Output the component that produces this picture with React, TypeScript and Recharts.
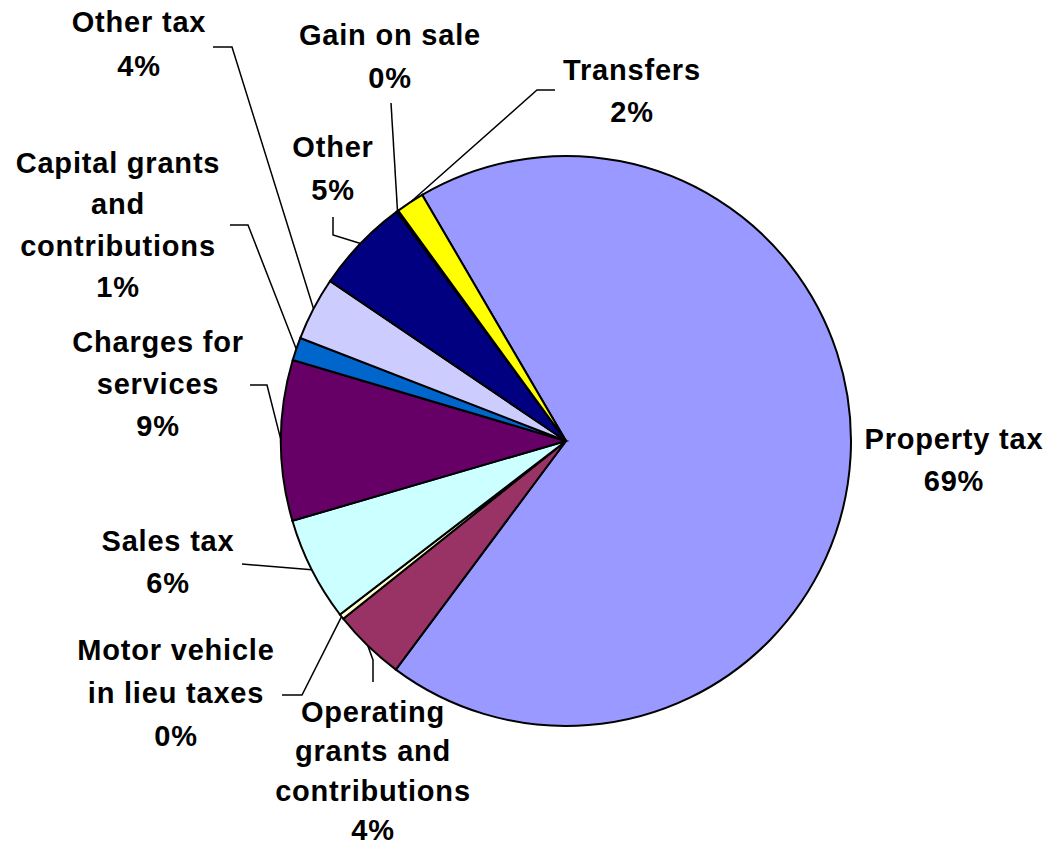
import React from "react";
import { PieChart, Pie, Cell } from "recharts";

const categories = [
  "Property tax",
  "Operating grants and contributions",
  "Motor vehicle in lieu taxes",
  "Sales tax",
  "Charges for services",
  "Capital grants and contributions",
  "Other tax",
  "Other",
  "Gain on sale",
  "Transfers",
];

const values = [68.6, 4.1, 0.3, 5.9, 9.1, 1.3, 3.6, 5.4, 0.1, 1.6];

const labelLines = [
  ["Property tax"],
  ["Operating", "grants and", "contributions"],
  ["Motor vehicle", "in lieu taxes"],
  ["Sales tax"],
  ["Charges for", "services"],
  ["Capital grants", "and", "contributions"],
  ["Other tax"],
  ["Other"],
  ["Gain on sale"],
  ["Transfers"],
];

const colors = [
  "#9999FF",
  "#993366",
  "#FFFFCC",
  "#CCFFFF",
  "#660066",
  "#0066CC",
  "#CCCCFF",
  "#000080",
  "#FF00FF",
  "#FFFF00",
];

// Label layout: text centre offset from the pie centre, line height, and leader elbow points (relative to pie centre)
const labelLayout: { tx: number; ty: number; lh: number; leader: [number, number][] }[] = [
  { tx: 388, ty: -2, lh: 42, leader: [] },
  { tx: -193, ty: 271, lh: 39.3, leader: [[-193, 219], [-193, 241]] },
  { tx: -390, ty: 209, lh: 43, leader: [[-264, 254], [-284, 254]] },
  { tx: -398, ty: 100, lh: 42, leader: [[-324, 123]] },
  { tx: -408, ty: -99, lh: 42, leader: [[-299, -56], [-316, -56]] },
  { tx: -448, ty: -278, lh: 41.3, leader: [[-318, -216], [-336, -216]] },
  { tx: -427, ty: -419, lh: 44, leader: [[-334, -394], [-353, -394]] },
  { tx: -233, ty: -294, lh: 43, leader: [[-233, -206], [-233, -224]] },
  { tx: -176, ty: -406, lh: 43, leader: [[-175, -338]] },
  { tx: 66, ty: -371, lh: 42, leader: [[-29, -351], [-11, -351]] },
];

const total = values.reduce((a, b) => a + b, 0);
const data = categories.map((name, i) => ({ name, value: values[i] }));

const RAD = Math.PI / 180;

const renderLabel = (props: any) => {
  const { cx, cy, midAngle, outerRadius, index } = props;
  const layout = labelLayout[index];
  const ex = cx + outerRadius * Math.cos(-midAngle * RAD);
  const ey = cy + outerRadius * Math.sin(-midAngle * RAD);
  const pts = [[ex, ey], ...layout.leader.map(([x, y]) => [cx + x, cy + y])];
  const lines = [...labelLines[index], `${Math.round((values[index] / total) * 100)}%`];
  const tx = cx + layout.tx;
  const ty = cy + layout.ty;
  return (
    <g key={`lbl-${index}`}>
      {layout.leader.length > 0 && (
        <polyline
          points={pts.map((p) => p.join(",")).join(" ")}
          fill="none"
          stroke="#000"
          strokeWidth={1.5}
        />
      )}
      <text
        x={tx}
        y={ty}
        textAnchor="middle"
        fontFamily="'Liberation Sans', Arial, sans-serif"
        fontWeight="bold"
        fontSize={29}
        letterSpacing={0.8}
        fill="#000"
      >
        {lines.map((l, i) => (
          <tspan key={i} x={tx} y={ty + i * layout.lh} dominantBaseline="central">
            {l}
          </tspan>
        ))}
      </text>
    </g>
  );
};

export default function App() {
  return (
    <div style={{ position: "absolute", left: 0, top: 0, width: 1049, height: 843, background: "#fff" }}>
      <PieChart width={1049} height={843} margin={{ top: 0, right: 0, bottom: 0, left: 0 }}>
        <Pie
          data={data}
          dataKey="value"
          nameKey="name"
          cx={566}
          cy={441}
          outerRadius={285}
          startAngle={120.3}
          endAngle={-239.7}
          stroke="#000"
          strokeWidth={2}
          label={renderLabel}
          labelLine={false}
          isAnimationActive={false}
        >
          {data.map((d, i) => (
            <Cell key={d.name} fill={colors[i]} stroke="#000" strokeWidth={2} />
          ))}
        </Pie>
      </PieChart>
    </div>
  );
}
